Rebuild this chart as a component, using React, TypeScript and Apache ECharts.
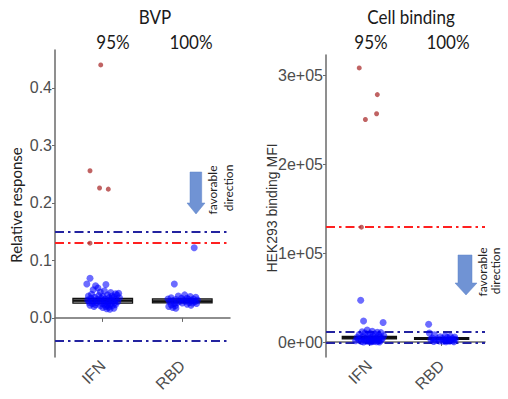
import React, { useEffect, useRef } from "react";
import * as echarts from "echarts";

const categories = ["IFN", "RBD"];
const categoryPos = [1, 2];
const topLabels = ["95%", "100%"];
const panelTitles = ["BVP", "Cell binding"];
const yNames = ["Relative response", "HEK293 binding MFI"];

// BVP panel: [jitter, value]
const bvpIfnBlue = [
  [-0.16, 0.069], [-0.2, 0.059], [0.04, 0.058], [-0.09, 0.056], [-0.06, 0.052], [-0.12, 0.049],
  [0.02, 0.047], [-0.03, 0.045], [0.1, 0.044], [0.2, 0.043], [0.16, 0.042], [-0.14, 0.041],
  [0.06, 0.04], [0.18, 0.04], [-0.05, 0.039], [0.12, 0.038], [-0.18, 0.038], [0.0, 0.037],
  [0.14, 0.036], [-0.1, 0.036], [0.08, 0.035], [0.21, 0.035], [-0.02, 0.034], [-0.15, 0.034],
  [0.11, 0.033], [0.03, 0.033], [-0.07, 0.032], [0.17, 0.032], [-0.19, 0.031], [0.09, 0.031],
  [0.01, 0.03], [-0.12, 0.03], [0.13, 0.029], [-0.04, 0.029], [0.19, 0.028], [0.05, 0.028],
  [-0.17, 0.027], [-0.08, 0.027], [0.07, 0.026], [0.15, 0.026], [-0.01, 0.025], [-0.13, 0.025],
  [0.1, 0.024], [0.02, 0.024], [-0.09, 0.023], [0.16, 0.023], [-0.16, 0.022], [0.06, 0.022],
  [-0.03, 0.021], [0.12, 0.021], [0.04, 0.02], [-0.11, 0.02], [0.08, 0.019], [0.0, 0.018],
  [0.14, 0.017], [0.05, 0.016], [0.09, 0.015],
];
const bvpRbdBlue = [
  [-0.1, 0.059], [0.15, 0.122], [0.03, 0.04], [-0.05, 0.038], [0.1, 0.037], [0.17, 0.036],
  [-0.14, 0.035], [0.06, 0.034], [-0.01, 0.034], [0.14, 0.033], [-0.18, 0.033], [0.08, 0.032],
  [-0.08, 0.032], [0.19, 0.031], [0.01, 0.031], [-0.12, 0.03], [0.12, 0.03], [0.04, 0.029],
  [-0.03, 0.029], [0.16, 0.028], [-0.16, 0.028], [0.09, 0.027], [-0.06, 0.027], [0.13, 0.026],
  [0.0, 0.026], [-0.1, 0.025], [0.18, 0.025], [0.06, 0.024], [-0.14, 0.023], [0.11, 0.022],
  [-0.09, 0.021], [-0.17, 0.02], [-0.12, 0.018], [-0.08, 0.017],
];
const bvpIfnRed = [[-0.025, 0.44], [-0.16, 0.256], [-0.04, 0.226], [0.07, 0.224], [-0.16, 0.13]];
// box: [q1, median, q3]
const bvpBoxes = [[0.0255, 0.03, 0.034], [0.026, 0.029, 0.033]];
const bvpBlueLines = [0.148, -0.043];
const bvpRedLines = [0.13];
const bvpTicks = [0, 0.1, 0.2, 0.3, 0.4];

// Cell binding panel: [jitter, value]
const cellIfnBlue = [
  [-0.12, 47000], [-0.08, 23600], [0.19, 22000], [-0.03, 13500], [0.04, 12000], [-0.1, 11500],
  [0.11, 11000], [0.16, 10500], [-0.06, 10000], [0.01, 9500], [0.08, 9000], [-0.14, 8500],
  [0.13, 8000], [-0.02, 7500], [0.2, 7000], [0.05, 6500], [-0.09, 6000], [0.15, 5500],
  [-0.17, 5000], [0.02, 4800], [0.1, 4500], [-0.05, 4200], [0.18, 4000], [-0.12, 3800],
  [0.07, 3500], [-0.01, 3200], [0.12, 3000], [-0.15, 2800], [0.04, 2500], [-0.07, 2300],
  [0.16, 2000], [0.09, 1800], [-0.19, 1500], [0.0, 1300], [0.13, 1100], [-0.04, 900],
  [0.06, 700], [-0.11, 500], [0.1, 300], [0.03, 200], [-0.08, 100], [0.14, 0], [0.01, 0],
];
const cellRbdBlue = [
  [-0.18, 20000], [-0.17, 10000], [-0.1, 8000], [0.05, 7000], [0.12, 6500], [-0.02, 6000],
  [0.18, 5500], [0.08, 5000], [-0.13, 4500], [0.15, 4000], [0.01, 3800], [-0.06, 3500],
  [0.1, 3200], [0.19, 3000], [-0.15, 2800], [0.04, 2500], [0.13, 2200], [-0.09, 2000],
  [0.07, 1800], [0.16, 1500], [-0.03, 1200], [0.11, 1000], [0.02, 800], [-0.11, 600],
  [0.17, 400], [0.06, 200],
];
const cellIfnRed = [[-0.14, 308000], [0.11, 278000], [0.1, 256500], [-0.055, 250000], [-0.11, 129000]];
const cellBoxes = [[3500, 4800, 6300], [3000, 4000, 5000]];
const cellBlueLines = [11000, -300];
const cellRedLines = [129000];
const cellTicks = [0, 100000, 200000, 300000];

const BLUE_PT = "rgba(0,0,255,0.72)";
const RED_PT = "#b03c3c";
const BLUE_LINE = "#2323a0";
const RED_LINE = "#ff2020";
const ARROW = "#7093d4";
const TICK_FONT = '"Liberation Sans Narrow", "Liberation Sans", Arial, sans-serif';
const TITLE_FONT = 'Lato, "Open Sans", sans-serif';

function jitterData(list: number[][], cat: number) {
  return list.map(([j, v]) => [categoryPos[cat] + j, v]);
}

function boxSeries(idx: number, boxes: number[][], blueLines: number[], redLines: number[]) {
  return {
    type: "custom",
    xAxisIndex: idx,
    yAxisIndex: idx,
    z: 2,
    data: boxes.map((b, i) => [categoryPos[i], b[0], b[1], b[2]]),
    encode: { x: 0, y: [1, 2, 3] },
    renderItem: (params: any, api: any) => {
      const x = api.value(0);
      const p1 = api.coord([x - 0.375, api.value(3)]);
      const p2 = api.coord([x + 0.375, api.value(1)]);
      const pm1 = api.coord([x - 0.375, api.value(2)]);
      const pm2 = api.coord([x + 0.375, api.value(2)]);
      return {
        type: "group",
        children: [
          {
            type: "rect",
            shape: { x: p1[0], y: p1[1], width: p2[0] - p1[0], height: Math.max(p2[1] - p1[1], 1) },
            style: { fill: "#8c8c8c", stroke: "#111", lineWidth: 1.2 },
          },
          {
            type: "line",
            shape: { x1: pm1[0], y1: pm1[1], x2: pm2[0], y2: pm2[1] },
            style: { stroke: "#111", lineWidth: 2.2 },
          },
        ],
      };
    },
    markLine: {
      silent: true,
      symbol: "none",
      z: 1,
      label: { show: false },
      data: [
        ...blueLines.map((v) => ({ yAxis: v, lineStyle: { color: BLUE_LINE, width: 2, type: [9, 4, 2.5, 4] } })),
        ...redLines.map((v) => ({ yAxis: v, lineStyle: { color: RED_LINE, width: 2, type: [9, 4, 2.5, 4] } })),
      ],
    },
  };
}

function scatter(idx: number, data: number[][], color: string, size: number) {
  return {
    type: "scatter",
    xAxisIndex: idx,
    yAxisIndex: idx,
    z: 4,
    symbolSize: size,
    itemStyle: { color },
    data,
  };
}

const axisLineStyle = { color: "#6a6a6a", width: 1.5 };

function xAxis(idx: number) {
  return {
    type: "value",
    gridIndex: idx,
    min: 0.4,
    max: 2.6,
    axisLine: { show: true, lineStyle: axisLineStyle },
    axisTick: { show: true, length: 4, customValues: categoryPos, lineStyle: { color: "#6a6a6a" } },
    axisLabel: {
      customValues: categoryPos,
      formatter: (v: number) => categories[Math.round(v) - 1],
      rotate: 45,
      margin: 6,
      color: "#4d4d4d",
      fontSize: 16,
      fontFamily: TICK_FONT,
    },
    splitLine: { show: false },
  };
}

function yAxis(idx: number, min: number, max: number, ticks: number[], fmt: (v: number) => string) {
  return {
    type: "value",
    gridIndex: idx,
    min,
    max,
    axisLine: { show: true, lineStyle: axisLineStyle },
    axisTick: { show: true, length: 3, customValues: ticks, lineStyle: { color: "#6a6a6a" } },
    axisLabel: {
      customValues: ticks,
      formatter: fmt,
      margin: 3,
      color: "#4d4d4d",
      fontSize: 16,
      fontFamily: TICK_FONT,
    },
    splitLine: { show: false },
  };
}

function arrow(x0: number, x1: number, top: number, headTop: number, hx0: number, hx1: number, tip: number) {
  const cx = (hx0 + hx1) / 2;
  return {
    type: "polygon",
    shape: {
      points: [[x0, top], [x1, top], [x1, headTop], [hx1, headTop], [cx, tip], [hx0, headTop], [x0, headTop]],
    },
    style: { fill: ARROW, stroke: "#5f84c8", lineWidth: 0.5 },
  };
}

function label(text: string, x: number, y: number, size: number, font: string, color: string, rotation = 0, scaleX = 1) {
  return {
    type: "text",
    x,
    y,
    rotation,
    scaleX,
    style: {
      text,
      fill: color,
      font: `${size}px ${font}`,
      textAlign: "center",
      textVerticalAlign: "middle",
    },
  };
}

export default function App() {
  const ref = useRef<HTMLDivElement>(null);
  useEffect(() => {
    if (!ref.current) return;
    const chart = echarts.init(ref.current, null, { renderer: "svg" });
    chart.setOption({
      animation: false,
      backgroundColor: "#ffffff",
      grid: [
        { left: 55, top: 50, width: 175, height: 307 },
        { left: 326, top: 55, width: 159, height: 302 },
      ],
      xAxis: [xAxis(0), xAxis(1)],
      yAxis: [
        yAxis(0, -0.068, 0.466, bvpTicks, (v) => v.toFixed(1)),
        yAxis(1, -16850, 322500, cellTicks, (v) => (v === 0 ? "0e+00" : `${Math.round(v / 100000)}e+05`)),
      ],
      series: [
        boxSeries(0, bvpBoxes, bvpBlueLines, bvpRedLines),
        scatter(0, jitterData(bvpIfnBlue, 0), BLUE_PT, 7),
        scatter(0, jitterData(bvpRbdBlue, 1), BLUE_PT, 7),
        scatter(0, jitterData(bvpIfnRed, 0), RED_PT, 5),
        boxSeries(1, cellBoxes, cellBlueLines, cellRedLines),
        scatter(1, jitterData(cellIfnBlue, 0), BLUE_PT, 7),
        scatter(1, jitterData(cellRbdBlue, 1), BLUE_PT, 7),
        scatter(1, jitterData(cellIfnRed, 0), RED_PT, 5),
      ],
      graphic: [
        label(panelTitles[0], 155, 16, 20, TITLE_FONT, "#1a1a1a", 0, 0.85),
        label(topLabels[0], 113, 41, 20, TITLE_FONT, "#1a1a1a", 0, 0.85),
        label(topLabels[1], 191, 41, 20, TITLE_FONT, "#1a1a1a", 0, 0.85),
        label(panelTitles[1], 411, 16, 20, TITLE_FONT, "#1a1a1a", 0, 0.85),
        label(topLabels[0], 371, 41, 20, TITLE_FONT, "#1a1a1a", 0, 0.85),
        label(topLabels[1], 448, 41, 20, TITLE_FONT, "#1a1a1a", 0, 0.85),
        label(yNames[0], 16, 205, 15, TITLE_FONT, "#222", Math.PI / 2),
        label(yNames[1], 272, 208, 14, '"Liberation Sans", Arial, sans-serif', "#333", Math.PI / 2),
        arrow(190, 201.7, 172, 203, 187, 205, 214),
        label("favorable", 212, 190, 12, TITLE_FONT, "#222", Math.PI / 2),
        label("direction", 228, 188, 12, TITLE_FONT, "#222", Math.PI / 2),
        arrow(458, 472, 255, 283, 455, 477, 295),
        label("favorable", 482, 272, 12, TITLE_FONT, "#222", Math.PI / 2),
        label("direction", 495, 271, 12, TITLE_FONT, "#222", Math.PI / 2),
      ],
    });
    return () => chart.dispose();
  }, []);
  return (
    <div
      ref={ref}
      style={{ position: "fixed", left: 0, top: 0, width: 508, height: 399, background: "#fff" }}
    />
  );
}
